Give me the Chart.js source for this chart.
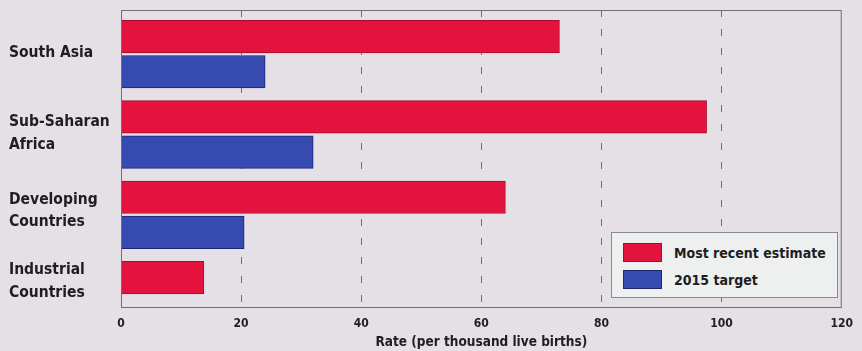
<!DOCTYPE html>
<html>
<head>
<meta charset="utf-8">
<script src="https://cdn.jsdelivr.net/npm/chart.js@4/dist/chart.umd.min.js"></script>
<style>
  html, body { margin: 0; padding: 0; background: #e4e0e6; }
  #wrap { position: relative; width: 862px; height: 351px; }
  #legend {
    position: absolute; left: 611px; top: 232px; width: 225px; height: 64px;
    background: #eef0f0; border: 1px solid #8a8a8a;
    font: bold 14px "DejaVu Sans Condensed", "Liberation Sans Narrow", sans-serif; color: #1e1e1e;
  }
  #legend .item { position: absolute; left: 11px; display: flex; align-items: center; }
  #legend .sw { width: 37px; height: 17px; border: 1px solid; margin-right: 12px; }
</style>
</head>
<body>
<div id="wrap">
  <canvas id="chart" width="862" height="351"></canvas>
  <div id="legend"></div>
</div>
<script>
const regions = [['South Asia'], ['Sub-Saharan', 'Africa'], ['Developing', 'Countries'], ['Industrial', 'Countries']];
const recentEstimate = [73, 97.5, 64, 13.8];
const target2015 = [24, 32, 20.5];
const xTicks = [0, 20, 40, 60, 80, 100, 120];

const RED = '#e4133e', RED_EDGE = '#a50c2c';
const BLUE = '#374ab2', BLUE_EDGE = '#1c2670';
const FONT = '"DejaVu Sans Condensed", "Liberation Sans Narrow", sans-serif';

// label rows sit a bit off the bar groups
const labelAt = [-0.02, 0.985, 1.955, 2.83];

const toPoints = (arr) => arr.map((v, i) => ({ x: v, y: i }));

const frame = {
  id: 'frame',
  afterDatasetsDraw(chart) {
    const { ctx, chartArea: a } = chart;
    ctx.save();
    ctx.strokeStyle = '#6e6e6e';
    ctx.lineWidth = 1;
    ctx.strokeRect(a.left + 0.5, a.top + 0.5, a.width - 1, a.height - 1);
    ctx.restore();
  }
};

const chart = new Chart(document.getElementById('chart'), {
  type: 'bar',
  data: {
    datasets: [
      {
        label: 'Most recent estimate',
        data: toPoints(recentEstimate),
        backgroundColor: RED,
        borderColor: RED_EDGE,
        borderWidth: 1,
      },
      {
        label: '2015 target',
        data: toPoints(target2015),
        backgroundColor: BLUE,
        borderColor: BLUE_EDGE,
        borderWidth: 1,
      },
    ],
  },
  options: {
    indexAxis: 'y',
    responsive: false,
    animation: false,
    categoryPercentage: 1,
    barPercentage: 1,
    maxBarThickness: 32.5,
    layout: { padding: { left: 9, top: 10, right: 17, bottom: 0 } },
    plugins: { legend: { display: false }, tooltip: { enabled: false } },
    scales: {
      x: {
        type: 'linear',
        min: 0,
        max: 120,
        afterBuildTicks: (s) => { s.ticks = xTicks.map((v) => ({ value: v })); },
        afterFit: (s) => { s.height = 43; },
        grid: {
          drawTicks: false,
          color: (c) => (c.tick && (c.tick.value === 0 || c.tick.value === 120)) ? 'rgba(0,0,0,0)' : '#6e6e6e',
          lineWidth: 1,
        },
        border: { display: false, dash: [7, 12] },
        ticks: {
          padding: 9,
          color: '#1e1e1e',
          font: { family: FONT, size: 12, weight: 'bold' },
        },
        title: {
          display: true,
          text: 'Rate (per thousand live births)',
          color: '#1e1e1e',
          font: { family: FONT, size: 13.5, weight: 'bold' },
          padding: { top: 2, bottom: 0 },
        },
      },
      y: {
        type: 'linear',
        reverse: true,
        offset: false,
        min: -0.55,
        max: 3.16,
        afterBuildTicks: (s) => { s.ticks = labelAt.map((v) => ({ value: v })); },
        afterFit: (s) => { s.width = 112; s.paddingTop = 0; s.paddingBottom = 0; },
        grid: { display: false, offset: false },
        border: { display: false },
        ticks: {
          crossAlign: 'far',
          color: '#1e1e1e',
          font: { family: FONT, size: 15.5, weight: 'bold', lineHeight: 1.45 },
          callback: (v, i) => regions[i],
        },
      },
    },
  },
  plugins: [frame],
});

// legend box inside the plot
const legend = document.getElementById('legend');
chart.data.datasets.forEach((ds, i) => {
  const item = document.createElement('div');
  item.className = 'item';
  item.style.top = (10 + i * 27) + 'px';
  item.innerHTML = '<span class="sw" style="background:' + ds.backgroundColor + ';border-color:' + ds.borderColor + '"></span>' + ds.label;
  legend.appendChild(item);
});
</script>
</body>
</html>
